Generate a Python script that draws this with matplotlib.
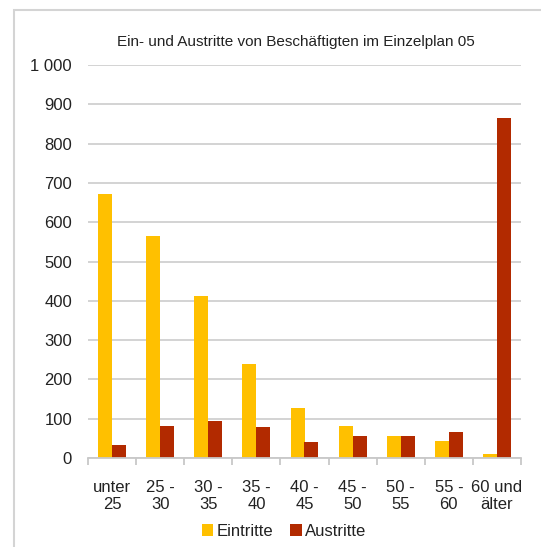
import matplotlib
matplotlib.use("Agg")
import matplotlib.pyplot as plt
import numpy as np
from matplotlib.patches import Rectangle

categories = ["unter\n25", "25 -\n30", "30 -\n35", "35 -\n40", "40 -\n45", "45 -\n50", "50 -\n55", "55 -\n60", "60 und\nälter"]
eintritte = [673, 565, 413, 240, 128, 82, 57, 42, 10]
austritte = [33, 82, 93, 78, 40, 57, 57, 67, 866]
yticks = [0, 100, 200, 300, 400, 500, 600, 700, 800, 900, 1000]
yticklabels = ["0", "100", "200", "300", "400", "500", "600", "700", "800", "900", "1 000"]

plt.rcParams['font.family'] = ['Liberation Sans', 'DejaVu Sans']

W, H = 541, 547
fig = plt.figure(figsize=(W/100, H/100), dpi=100)
fig.patch.set_facecolor('white')

# outer frame
fig.patches.append(Rectangle((13.5/W, -0.01), 1.1, 1 - 10/H + 0.01, transform=fig.transFigure,
                             fill=False, edgecolor='#d4d4d4', linewidth=1.5))

ax = fig.add_axes([88/W, (H-458)/H, (521-88)/W, (458-65)/H])
x = np.arange(len(categories))
bw = 0.29
ax.bar(x - bw/2, eintritte, bw, color='#FFC000', label='Eintritte')
ax.bar(x + bw/2, austritte, bw, color='#B22A00', label='Austritte')

ax.set_xlim(-0.5, len(categories) - 0.5)
ax.set_ylim(0, 1000)
ax.set_yticks(yticks)
ax.set_yticklabels(yticklabels, fontsize=12, color='#222222')
ax.yaxis.grid(True, color='#d0d0d0', linewidth=1.3)
ax.set_axisbelow(True)
ax.tick_params(axis='y', length=0, pad=11.5)

ax.set_xticks(np.arange(-0.5, len(categories), 1.0))
ax.set_xticklabels([])
ax.set_xticks(x, minor=True)
ax.set_xticklabels(categories, minor=True, fontsize=12, color='#222222', linespacing=1.15)
ax.tick_params(axis='x', which='major', length=5, color='#c8c8c8', width=1.3)
ax.tick_params(axis='x', which='minor', length=0, pad=16)

for s in ['top', 'right', 'left']:
    ax.spines[s].set_visible(False)
ax.spines['bottom'].set_color('#c8c8c8')
ax.spines['bottom'].set_linewidth(1.3)

fig.text(296/W, 1 - 42/H, "Ein- und Austritte von Beschäftigten im Einzelplan 05",
         ha='center', va='center', fontsize=11, color='#222222')

leg = fig.legend(loc='center', bbox_to_anchor=(284/W, 1 - 531/H), ncol=2, frameon=False,
                 fontsize=12, handlelength=0.7, handleheight=0.7, handletextpad=0.2,
                 columnspacing=1.0)
for t in leg.get_texts():
    t.set_color('#222222')

fig.savefig("out.png", dpi=100)
